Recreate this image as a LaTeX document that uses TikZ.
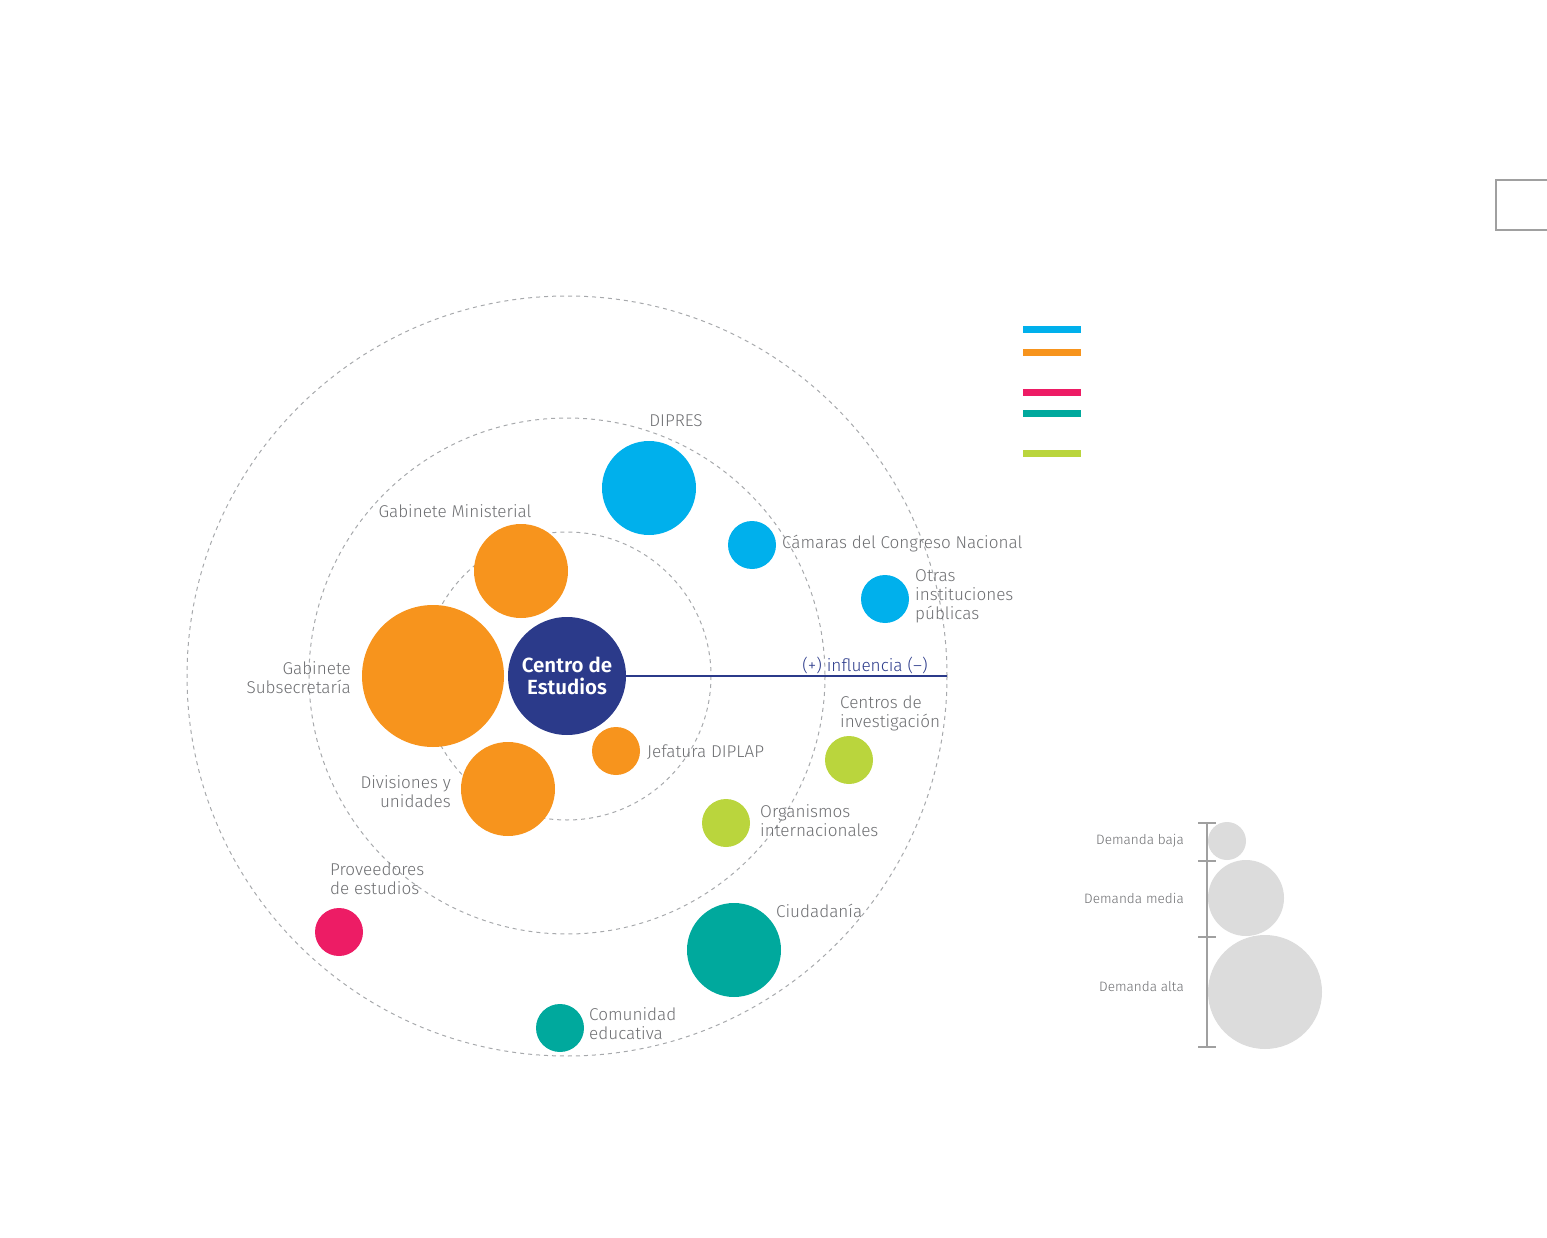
\documentclass[tikz,border=0pt]{standalone}
\usepackage{fontspec}
\setmainfont{Fira Sans}[UprightFont=* Light, BoldFont=* SemiBold]
\usepackage{xcolor}
\usetikzlibrary{positioning}

\definecolor{azul}{HTML}{00B0EC}
\definecolor{naranja}{HTML}{F7941D}
\definecolor{rosa}{HTML}{ED1C65}
\definecolor{turquesa}{HTML}{00A99D}
\definecolor{verde}{HTML}{BAD53D}
\definecolor{marino}{HTML}{2B3A8A}
\definecolor{texto}{HTML}{6D6E71}
\definecolor{anillo}{HTML}{A7A9AC}
\definecolor{escala}{HTML}{A0A0A0}
\definecolor{demanda}{HTML}{DCDCDC}

\begin{document}
\begin{tikzpicture}[x=1pt, y=-1pt,
    actor/.style={circle, minimum size=#1, inner sep=0pt},
    etiq/.style={text=texto, font=\fontsize{17.1}{19}\selectfont, inner sep=0pt, align=left},
    etiqder/.style={etiq, align=right, anchor=east},
    etiqizq/.style={etiq, anchor=west},
    chica/.style={text=texto, font=\fontsize{13.6}{15}\selectfont, inner sep=0pt, anchor=east}]
    \useasboundingbox (0,0) rectangle (1547,1238);

    % anillos de influencia
    \foreach \r in {144,258,380}
        \draw[anillo, line width=1pt, dash pattern=on 4pt off 4pt] (567,676) circle[radius=\r];

    % recuadro superior
    \draw[escala, line width=1.5pt] (1496,180) rectangle (1570,230);

    % leyenda de colores
    \foreach \y/\c in {330/azul,353/naranja,392/rosa,413/turquesa,453/verde}
        \draw[\c, line width=7pt] (1023,\y) -- (1081,\y);

    % centro
    \node[actor=118pt, fill=marino, text=white, align=center,
          font=\bfseries\fontsize{20.5}{22}\selectfont] (ce) at (567,676) {Centro de\\Estudios};
    \coordinate (infl) at (947,676);
    \draw[marino, line width=2.2pt] (ce.east) -- (infl);
    \node[text=marino, font=\fontsize{17.2}{19}\selectfont, inner sep=0pt] (inftxt) at (865,665) {(+) influencia (--)};

    % actores
    \node[actor=94pt, fill=naranja] (gmin) at (521,571) {};
    \node[actor=142pt, fill=naranja] (gsub) at (433,676) {};
    \node[actor=94pt, fill=naranja] (divu) at (508,789) {};
    \node[actor=48pt, fill=naranja] (jefd) at (616,751) {};
    \node[actor=94pt, fill=azul] (dipres) at (649,488) {};
    \node[actor=48pt, fill=azul] (camc) at (752,545) {};
    \node[actor=48pt, fill=azul] (otras) at (885,599) {};
    \node[actor=48pt, fill=verde] (cinv) at (849,760) {};
    \node[actor=48pt, fill=verde] (orgi) at (726,823) {};
    \node[actor=94pt, fill=turquesa] (ciud) at (734,950) {};
    \node[actor=48pt, fill=turquesa] (comed) at (560,1028) {};
    \node[actor=48pt, fill=rosa] (prov) at (339,932) {};

    % etiquetas
    \node[etiq] (ldipres) at (676,421) {DIPRES};
    \node[etiq] (lgmin) at (455,511) {Gabinete Ministerial};
    \node[etiqizq] (lcamc) at (782,544) {Cámaras del Congreso Nacional};
    \node[etiqizq] (lotras) at (915,596) {Otras\\instituciones\\públicas};
    \node[etiqder] (lgsub) at (351,678) {Gabinete\\Subsecretaría};
    \node[etiqizq] (ljefd) at (647,752) {Jefatura DIPLAP};
    \node[etiqizq] (lcinv) at (840,713) {Centros de\\investigación};
    \node[etiqder] (ldivu) at (451,792) {Divisiones y\\unidades};
    \node[etiqizq] (lorgi) at (760,821) {Organismos\\internacionales};
    \node[etiqizq] (lprov) at (330,879) {Proveedores\\de estudios};
    \node[etiqizq] (lciud) at (776,911) {Ciudadanía};
    \node[etiqizq] (lcomed) at (589,1024) {Comunidad\\educativa};

    % escala de demanda
    \draw[escala, line width=2.5pt] (1207,823) -- (1207,1047);
    \foreach \y in {823,861,937,1047}
        \draw[escala, line width=2.5pt] (1198,\y) -- (1216,\y);
    \node[actor=38pt, fill=demanda] (dbaja) at (1227,841) {};
    \node[actor=76pt, fill=demanda] (dmedia) at (1246,898) {};
    \node[actor=114pt, fill=demanda] (dalta) at (1265,992) {};
    \node[chica] (lbaja) at (1184,841) {Demanda baja};
    \node[chica] (lmedia) at (1184,898) {Demanda media};
    \node[chica] (lalta) at (1184,987) {Demanda alta};
\end{tikzpicture}
\end{document}
